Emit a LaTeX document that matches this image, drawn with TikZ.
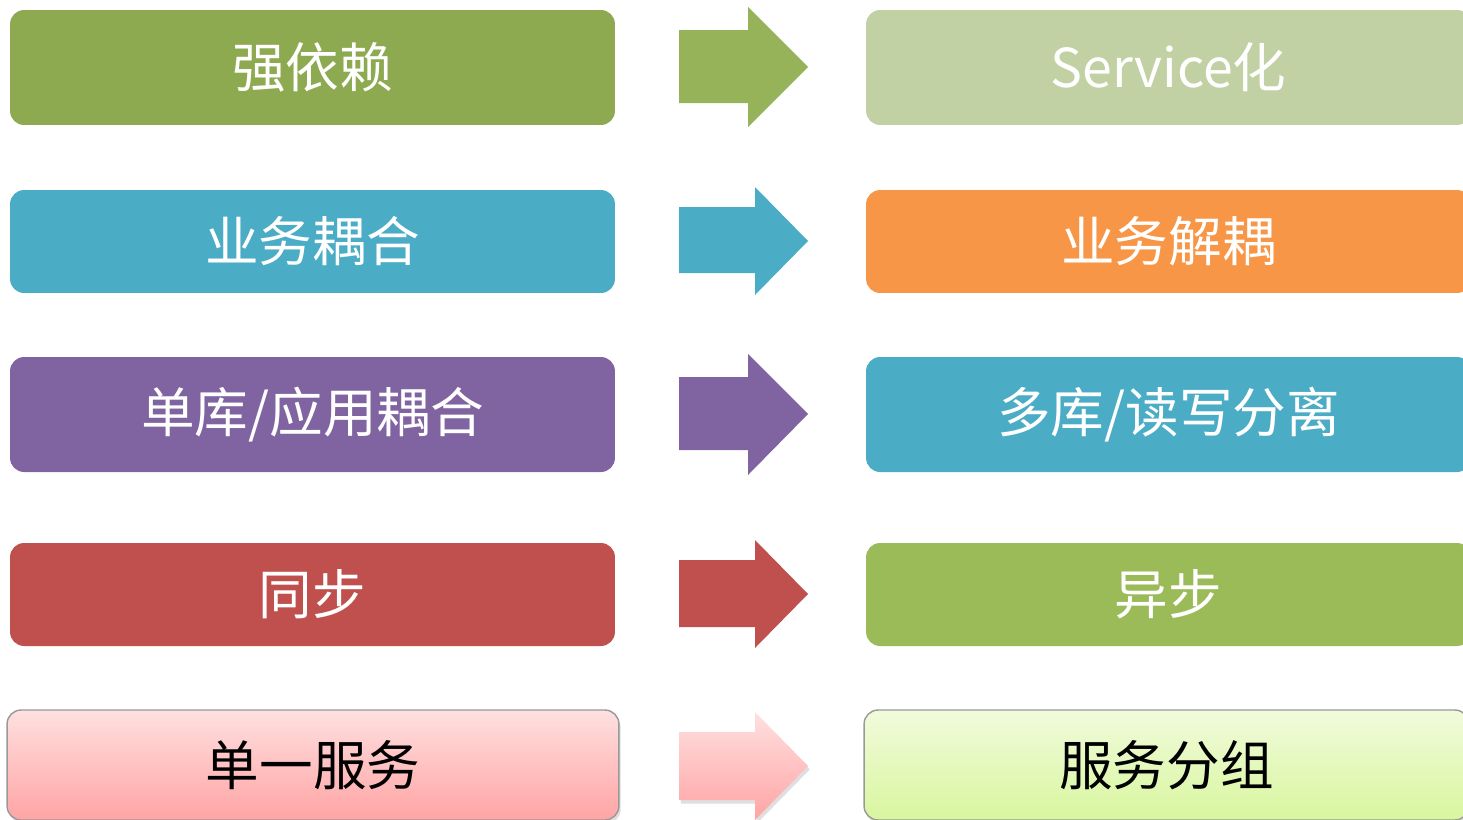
\documentclass[tikz,border=0pt]{standalone}
\usepackage{fontspec}
\newfontfamily\cjk{Noto Sans CJK SC}
\usetikzlibrary{shadows}
\definecolor{olive}{RGB}{142, 170, 80}
\definecolor{oliveArrow}{RGB}{151, 179, 89}
\definecolor{sage}{RGB}{194, 209, 164}
\definecolor{sky}{RGB}{75, 172, 198}
\definecolor{tangerine}{RGB}{247, 150, 70}
\definecolor{amethyst}{RGB}{128, 100, 162}
\definecolor{brick}{RGB}{192, 80, 77}
\definecolor{lime}{RGB}{155, 187, 89}
\definecolor{blushTop}{RGB}{255, 224, 224}
\definecolor{blushBot}{RGB}{255, 164, 164}
\definecolor{mintTop}{RGB}{241, 251, 220}
\definecolor{mintBot}{RGB}{216, 246, 158}
\tikzset{
  box/.style={rounded corners=8pt, minimum width=12.1cm, text=white, inner sep=0pt,
              font=\cjk\fontsize{30.5}{30.5}\selectfont},
  tall/.style={box, minimum height=2.3cm},
  short/.style={box, minimum height=2.06cm},
  pale/.style={box, minimum height=2.2cm, text=black, draw=gray!80, thick,
               drop shadow={opacity=0.25, shadow xshift=1pt, shadow yshift=-2pt}}
}
\begin{document}
\begin{tikzpicture}[x=0.02cm, y=-0.02cm]
  \useasboundingbox (0,0) rectangle (1463,819);
  \clip (0,0) rectangle (1463,819);
  % left column
  \node[tall,  fill=olive]    (strong)  at (312.5, 67.5) {强依赖};
  \node[short, fill=sky]      (bizcpl)  at (312.5,241.5) {业务耦合};
  \node[tall,  fill=amethyst] (singledb)at (312.5,414.5) {单库/应用耦合};
  \node[short, fill=brick]    (sync)    at (312.5,594.5) {同步};
  \node[pale, top color=blushTop, bottom color=blushBot, minimum width=12.24cm]
                              (single)  at (313.0,765.0) {单一服务};
  % right column
  \node[tall,  fill=sage]     (service) at (1168.5, 67.5) {Service化};
  \node[short, fill=tangerine](bizdec)  at (1168.5,241.5) {业务解耦};
  \node[tall,  fill=sky]      (multidb) at (1168.5,414.5) {多库/读写分离};
  \node[short, fill=lime]     (async)   at (1168.5,594.5) {异步};
  \node[pale, top color=mintTop, bottom color=mintBot]
                              (group)   at (1166.5,765.0) {服务分组};
  % arrows
  \fill[oliveArrow] (679, 30) -- (748, 30) -- (748,  7) -- (808, 67) -- (748,127) -- (748,103) -- (679,103) -- cycle;
  \fill[sky]        (679,207) -- (755,207) -- (755,187) -- (808,241) -- (755,295) -- (755,273) -- (679,273) -- cycle;
  \fill[amethyst]   (679,377) -- (748,377) -- (748,354) -- (808,414) -- (748,475) -- (748,450) -- (679,450) -- cycle;
  \fill[brick]      (679,560) -- (755,560) -- (755,540) -- (808,594) -- (755,648) -- (755,627) -- (679,627) -- cycle;
  \shade[top color=blushTop, bottom color=blushBot, drop shadow={opacity=0.25, shadow xshift=1pt, shadow yshift=-2pt}]
                    (679,732) -- (755,732) -- (755,712) -- (808,766) -- (755,820) -- (755,800) -- (679,800) -- cycle;
\end{tikzpicture}
\end{document}
